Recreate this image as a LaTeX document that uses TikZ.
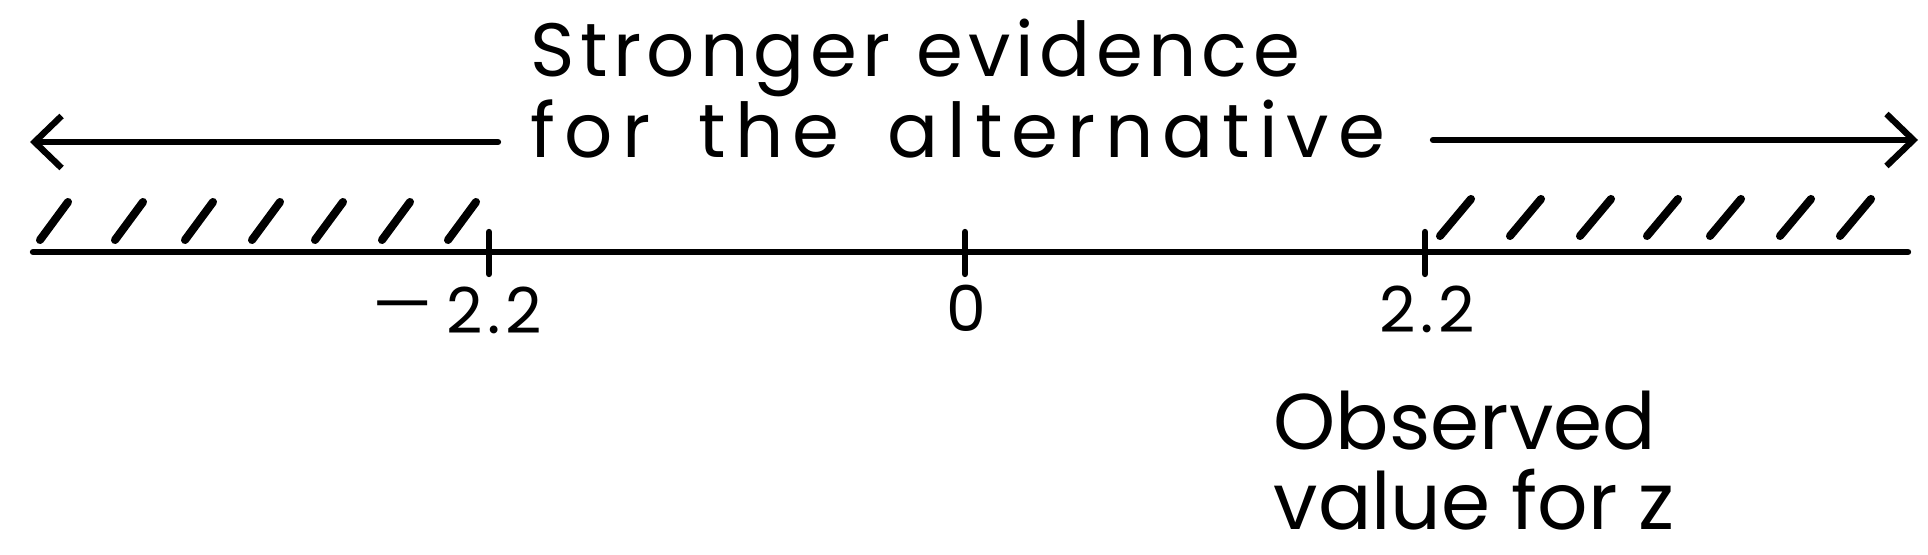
\documentclass[tikz,border=0pt]{standalone}
\usepackage{graphicx}
\usepackage{fontspec}
\setmainfont{Poppins}
\newfontfamily\handfont[LetterSpace=7]{Poppins}
\usetikzlibrary{arrows.meta,positioning}

\tikzset{
  axis/.style={line width=1.8pt, line cap=round},
  hatch/.style={line width=2.3pt, line cap=round},
  side/.style={line width=1.8pt, line cap=round, -{Straight Barb[length=0.27cm,width=0.52cm]}},
  ticklabel/.style={font=\handfont\fontsize{18}{20}\selectfont, inner sep=0pt},
  caption/.style={font=\fontsize{21.5}{23.2}\selectfont, align=left, inner sep=0pt, anchor=north west},
}

\begin{document}
\begin{tikzpicture}
    \useasboundingbox (0,0) rectangle (19.28,5.54);

    % Zahlengerade
    \coordinate (lineL) at (0.33,3.02);
    \coordinate (lineR) at (19.08,3.02);
    \draw[axis] (lineL) -- (lineR);

    % Markierungen
    \foreach \x/\nm in {4.89/m, 9.65/z, 14.25/p} {
        \draw[axis] (\x,3.22) -- (\x,2.80) coordinate (tick\nm);
    }
    \node[ticklabel] (labm) at (4.56,2.44) {\raisebox{0.07cm}{\scalebox{1.5}[1]{–}}\hspace{0.12cm}2.2};
    \node[ticklabel] (labz) at (9.66,2.46) {0};
    \node[ticklabel] (labp) at (14.27,2.45) {2.2};

    % Schraffur links und rechts
    \foreach \x in {0.40,1.15,1.85,2.52,3.15,3.82,4.48}
        \draw[hatch] (\x,3.14) -- ++(0.28,0.38);
    \foreach \x in {14.40,15.10,15.80,16.47,17.10,17.80,18.40}
        \draw[hatch] (\x,3.18) -- ++(0.31,0.37);

    % Beschriftung oben mit Pfeilen
    \node[caption, font=\handfont\fontsize{21.5}{23.2}\selectfont] (title) at (5.30,5.36)
        {Stronger evidence\\\addfontfeature{LetterSpace=12}for \hspace{0.19cm}the \hspace{0.19cm}alternative};
    \coordinate (arrLa) at (4.98,4.12);
    \coordinate (arrLb) at (0.30,4.12);
    \coordinate (arrRa) at (14.33,4.14);
    \coordinate (arrRb) at (19.18,4.14);
    \draw[side] (arrLa) -- (arrLb);
    \draw[side] (arrRa) -- (arrRb);

    % Beobachteter Wert
    \node[caption, font=\fontsize{22.5}{22.8}\selectfont] (obs) at (12.73,1.64) {Observed\\value for z};
\end{tikzpicture}
\end{document}
